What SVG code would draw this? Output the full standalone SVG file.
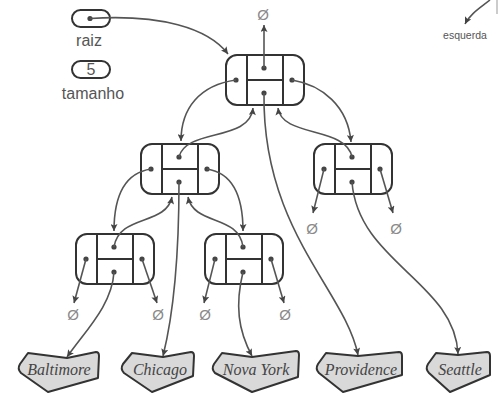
<svg xmlns="http://www.w3.org/2000/svg" width="498" height="412" viewBox="0 0 498 412">
  <defs>
    <marker id="arrow" viewBox="0 0 10 10" refX="10" refY="5" markerWidth="9" markerHeight="7" markerUnits="userSpaceOnUse" orient="auto">
      <path d="M0,0 L10,5 L0,10 L2,5 Z" fill="#444"/>
    </marker>
    <!-- one tree node: parent / left / right / element fields -->
    <g id="tnode">
      <rect x="0" y="0" width="78" height="50" rx="11" ry="11" class="box"/>
      <line x1="21" y1="0" x2="21" y2="50" class="div"/>
      <line x1="57" y1="0" x2="57" y2="50" class="div"/>
      <line x1="21" y1="25" x2="57" y2="25" class="div"/>
      <circle cx="38" cy="13" r="2.6" class="dot"/>
      <circle cx="10" cy="25" r="2.6" class="dot"/>
      <circle cx="66" cy="25" r="2.6" class="dot"/>
      <circle cx="38" cy="38" r="2.6" class="dot"/>
    </g>
  </defs>
  <style>
    .box { fill: #fff; stroke: #333; stroke-width: 2; }
    .div { stroke: #333; stroke-width: 2; }
    .dot { fill: #444; }
    .pill { fill: #fff; stroke: #333; stroke-width: 2; }
    .edge { fill: none; stroke: #555; stroke-width: 1.6; marker-end: url(#arrow); }
    .leaf { fill: #d9d9d9; stroke: #333; stroke-width: 2; stroke-linejoin: round; }
    .lbl { font-family: "Liberation Sans", Arial, sans-serif; font-size: 16px; fill: #555; text-anchor: middle; }
    .small { font-family: "Liberation Sans", Arial, sans-serif; font-size: 10.5px; fill: #555; text-anchor: middle; }
    .city { font-family: "Liberation Serif", "Times New Roman", serif; font-style: italic; font-size: 16px; fill: #444; text-anchor: middle; }
    .nil { font-family: "Liberation Sans", Arial, sans-serif; font-size: 15px; fill: #8a8a8a; text-anchor: middle; }
  </style>

  <rect width="498" height="412" fill="#fff"/>

  <!-- tree header fields -->
  <g id="raiz">
    <rect x="72" y="10" width="38" height="17" rx="8.5" class="pill"/>
    <circle cx="90" cy="18.5" r="2.6" class="dot"/>
    <text x="89" y="46" class="lbl">raiz</text>
  </g>
  <g id="tamanho">
    <rect x="72" y="61" width="38" height="17" rx="8.5" class="pill"/>
    <text x="91" y="75" class="lbl">5</text>
    <text x="93" y="99" class="lbl">tamanho</text>
  </g>

  <!-- legend fragment -->
  <g id="legend">
    <line x1="497" y1="0" x2="497" y2="14" stroke="#aaa" stroke-width="1.2"/>
    <text x="465" y="39" class="small">esquerda</text>
  </g>

  <!-- tree nodes -->
  <g id="node-providence"><use href="#tnode" x="226" y="55"/></g>
  <g id="node-chicago"><use href="#tnode" x="141" y="144"/></g>
  <g id="node-seattle"><use href="#tnode" x="314" y="144"/></g>
  <g id="node-baltimore"><use href="#tnode" x="76" y="234"/></g>
  <g id="node-novayork"><use href="#tnode" x="205" y="234"/></g>

  <!-- element records -->
  <g id="leaf-baltimore">
    <path d="M28,353 L67,358 L96,352 Q99,352 99,356 L98,378 L48,392 L21,373 Q17,369 20,364 Z" class="leaf"/>
    <text x="59" y="375" class="city">Baltimore</text>
  </g>
  <g id="leaf-chicago">
    <path d="M132,353 L163,357 L191,352 Q194,352 194,356 L193,376 L152,392 L124,373 Q120,369 123,364 Z" class="leaf"/>
    <text x="160" y="375" class="city">Chicago</text>
  </g>
  <g id="leaf-novayork">
    <path d="M222,353 L252,357 L296,351 Q299,351 299,355 L298,377 L252,392 L215,373 Q211,369 214,364 Z" class="leaf"/>
    <text x="256" y="375" class="city">Nova York</text>
  </g>
  <g id="leaf-providence">
    <path d="M326,353 L358,356 L399,352 Q402,352 402,356 L402,375 L343,392 L319,373 Q315,369 318,364 Z" class="leaf"/>
    <text x="361" y="375" class="city">Providence</text>
  </g>
  <g id="leaf-seattle">
    <path d="M436,353 L458,355 L487,352 Q490,352 490,356 L490,375 L450,392 L429,373 Q425,369 428,364 Z" class="leaf"/>
    <text x="460" y="375" class="city">Seattle</text>
  </g>

  <!-- empty references -->
  <g id="nulls">
    <text x="263" y="20" class="nil">Ø</text>
    <text x="312" y="234" class="nil">Ø</text>
    <text x="396" y="234" class="nil">Ø</text>
    <text x="73" y="320" class="nil">Ø</text>
    <text x="158" y="320" class="nil">Ø</text>
    <text x="205" y="320" class="nil">Ø</text>
    <text x="285" y="320" class="nil">Ø</text>
  </g>

  <!-- references between fields -->
  <g id="connectors">
    <path d="M490,0 C480,8 470,14 465,24" class="edge"/>
    <path d="M90,18.5 C160,14 208,28 228,54" class="edge"/>
    <path d="M264,68 L264,25" class="edge"/>
    <!-- root <-> children -->
    <path d="M236,80 C200,85 181,108 181,141" class="edge"/>
    <path d="M179,157 C186,128 250,142 253,108" class="edge"/>
    <path d="M292,80 C322,85 348,106 351,142" class="edge"/>
    <path d="M352,157 C346,126 282,138 278,108" class="edge"/>
    <!-- left child <-> grandchildren -->
    <path d="M151,169 C124,173 114,196 114,231" class="edge"/>
    <path d="M114,247 C119,214 166,226 172,197" class="edge"/>
    <path d="M207,169 C233,173 243,196 243,231" class="edge"/>
    <path d="M243,247 C239,214 194,226 188,197" class="edge"/>
    <!-- null children -->
    <path d="M324,169 L313,213" class="edge"/>
    <path d="M380,169 L393,213" class="edge"/>
    <path d="M86,259 L74,303" class="edge"/>
    <path d="M142,259 L157,303" class="edge"/>
    <path d="M215,259 L204,303" class="edge"/>
    <path d="M271,259 L284,303" class="edge"/>
    <!-- element references -->
    <path d="M114,272 C112,305 86,330 67,357" class="edge"/>
    <path d="M179,182 C179,270 172,320 163,356" class="edge"/>
    <path d="M243,272 C235,305 238,330 252,356" class="edge"/>
    <path d="M264,93 C262,230 345,290 358,355" class="edge"/>
    <path d="M352,182 C358,262 455,282 458,354" class="edge"/>
  </g>
</svg>
